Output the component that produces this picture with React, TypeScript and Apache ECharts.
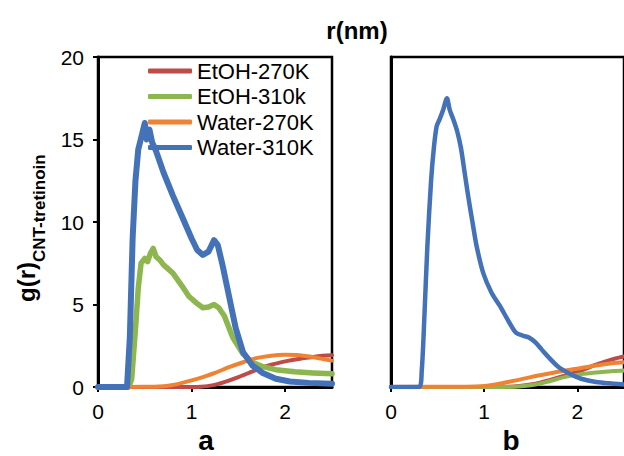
import React, { useEffect, useRef } from "react";
import * as echarts from "echarts";

// ---- data (r in nm, g(r)) ----
const seriesNames = ["EtOH-270K", "EtOH-310k", "Water-270K", "Water-310K"];
const seriesColors = ["#BE4B48", "#8DB64F", "#EE8433", "#4372B8"];
const xTickValues = [0, 1, 2];
const yTickValuesA = [0, 5, 10, 15, 20];

// panel a
const etoh270A = [[0, 0], [1.0, 0], [1.1, 0.02], [1.22, 0.1], [1.35, 0.3], [1.5, 0.6], [1.63, 0.9], [1.76, 1.2], [1.9, 1.42], [2.04, 1.6], [2.17, 1.72], [2.3, 1.82], [2.4, 1.9], [2.5, 1.93]];
const etoh310A = [[0, 0], [0.33, 0], [0.36, 0.5], [0.4, 3.5], [0.43, 6], [0.46, 7.5], [0.5, 7.8], [0.53, 7.6], [0.56, 8.1], [0.59, 8.4], [0.62, 7.9], [0.66, 7.7], [0.7, 7.4], [0.8, 6.9], [0.9, 6.1], [0.97, 5.5], [1.05, 5.1], [1.12, 4.8], [1.18, 4.85], [1.24, 5.0], [1.29, 4.8], [1.35, 4.3], [1.44, 3.0], [1.55, 2.0], [1.65, 1.5], [1.75, 1.25], [1.9, 1.05], [2.1, 0.92], [2.3, 0.85], [2.5, 0.8]];
const water270A = [[0, 0], [0.5, 0.01], [0.7, 0.05], [0.8, 0.12], [0.9, 0.25], [1.0, 0.4], [1.12, 0.6], [1.25, 0.85], [1.4, 1.2], [1.55, 1.5], [1.69, 1.75], [1.85, 1.9], [2.0, 1.95], [2.15, 1.93], [2.26, 1.85], [2.38, 1.72], [2.5, 1.6]];
const water310A = [[0, 0], [0.31, 0], [0.34, 3], [0.37, 9], [0.4, 12.5], [0.43, 14.4], [0.47, 15.3], [0.5, 16.0], [0.52, 15.0], [0.55, 15.6], [0.58, 14.8], [0.62, 14.3], [0.7, 13.0], [0.8, 11.6], [0.9, 10.3], [1.0, 9.0], [1.06, 8.3], [1.12, 8.0], [1.18, 8.2], [1.24, 8.9], [1.28, 8.6], [1.33, 7.4], [1.4, 5.5], [1.47, 3.6], [1.55, 2.1], [1.65, 1.3], [1.76, 0.85], [1.9, 0.5], [2.05, 0.33], [2.25, 0.25], [2.5, 0.2]];

// panel b
const etoh270B = [[0, 0], [1.2, 0], [1.4, 0.08], [1.55, 0.2], [1.7, 0.42], [1.87, 0.7], [2.04, 1.0], [2.2, 1.35], [2.39, 1.7], [2.5, 1.85]];
const etoh310B = [[0, 0], [1.2, 0], [1.4, 0.05], [1.55, 0.15], [1.7, 0.35], [1.86, 0.6], [2.04, 0.78], [2.2, 0.88], [2.39, 0.97], [2.5, 1.0]];
const water270B = [[0, 0], [0.8, 0.02], [1.0, 0.06], [1.15, 0.18], [1.34, 0.4], [1.5, 0.6], [1.7, 0.82], [1.87, 1.0], [2.04, 1.15], [2.2, 1.3], [2.39, 1.45], [2.5, 1.5]];
const water310B = [[0, 0], [0.3, 0], [0.33, 1], [0.36, 4.5], [0.39, 8.5], [0.43, 12.5], [0.46, 14.5], [0.49, 15.8], [0.52, 16.2], [0.56, 16.8], [0.6, 17.5], [0.63, 16.8], [0.67, 16.2], [0.71, 15.5], [0.75, 14.5], [0.79, 13], [0.83, 11.5], [0.88, 9.8], [0.92, 8.5], [0.99, 6.9], [1.08, 5.7], [1.17, 4.9], [1.26, 4.0], [1.34, 3.3], [1.42, 3.1], [1.48, 3.0], [1.55, 2.7], [1.62, 2.25], [1.7, 1.75], [1.8, 1.2], [1.92, 0.8], [2.04, 0.5], [2.2, 0.3], [2.39, 0.2], [2.5, 0.15]];

const panelA = [etoh270A, etoh310A, water270A, water310A];
const panelB = [etoh270B, etoh310B, water270B, water310B];
const lineWidthsA = [4, 5.5, 4, 6];
const lineWidthsB = [4, 4, 4, 4.5];

const FONT = "'Liberation Sans', Arial, sans-serif";

export default function App() {
  const ref = useRef<HTMLDivElement>(null);
  useEffect(() => {
    if (!ref.current) return;
    const chart = echarts.init(ref.current, null, { renderer: "svg" });

    const xAxisBase = (gridIndex: number) => ({
      type: "value",
      gridIndex,
      min: 0,
      max: 2.5,
      interval: 1,
      axisLine: { show: true, onZero: false, lineStyle: { color: "#000", width: 3 } },
      axisTick: { show: true, inside: false, length: 5, customValues: xTickValues, lineStyle: { color: "#000", width: 2 } },
      axisLabel: { customValues: xTickValues, fontSize: 21, color: "#000", margin: 14, fontFamily: FONT },
      splitLine: { show: false },
    });

    const mkSeries = (data: number[][][], idx: number, smoothFlags: boolean[], widths: number[]) =>
      data.map((d, i) => ({
        name: seriesNames[i],
        type: "line",
        xAxisIndex: idx,
        yAxisIndex: idx,
        data: d,
        showSymbol: false,
        symbol: "none",
        smooth: smoothFlags[i] ? 0.3 : false,
        color: seriesColors[i],
        lineStyle: { width: widths[i], color: seriesColors[i], join: "round", cap: "round" },
        z: 2 + i,
      }));

    const option: any = {
      animation: false,
      grid: [
        { left: 98, top: 57, width: 234, height: 330, show: true, borderColor: "#000", borderWidth: 2.5, backgroundColor: "transparent" },
        { left: 391, top: 57, width: 237.5, height: 330, show: true, borderColor: "#000", borderWidth: 2.5, backgroundColor: "transparent" },
      ],
      xAxis: [xAxisBase(0), xAxisBase(1)],
      yAxis: [
        {
          type: "value",
          gridIndex: 0,
          min: 0,
          max: 20,
          interval: 5,
          axisLine: { show: true, lineStyle: { color: "#000", width: 3 } },
          axisTick: { show: true, inside: false, length: 5, customValues: yTickValuesA, lineStyle: { color: "#000", width: 2 } },
          axisLabel: { fontSize: 21, color: "#000", margin: 14, fontFamily: FONT },
          splitLine: { show: false },
        },
        {
          type: "value",
          gridIndex: 1,
          min: 0,
          max: 20,
          interval: 5,
          axisLine: { show: true, lineStyle: { color: "#000", width: 3 } },
          axisTick: { show: false },
          axisLabel: { show: false },
          splitLine: { show: false },
        },
      ],
      legend: {
        data: seriesNames,
        orient: "vertical",
        left: 148,
        top: 60,
        padding: 0,
        itemWidth: 44,
        itemHeight: 5,
        itemGap: 3.5,
        icon: "roundRect",
        textStyle: { fontSize: 22, color: "#000", fontFamily: FONT },
        selectedMode: false,
      },
      series: [
        ...mkSeries(panelA, 0, [true, false, true, false], lineWidthsA),
        ...mkSeries(panelB, 1, [true, true, true, true], lineWidthsB),
      ],
      graphic: [
        { type: "text", x: 357, y: 30, style: { text: "r(nm)", fontSize: 24, fontWeight: "bold", fontFamily: FONT, fill: "#000", align: "center", verticalAlign: "middle" } },
        { type: "text", x: 26, y: 302, rotation: Math.PI / 2, style: { text: "g(r)", fontSize: 24, fontWeight: "bold", fontFamily: FONT, fill: "#000", align: "left", verticalAlign: "middle" } },
        { type: "text", x: 39, y: 262, rotation: Math.PI / 2, style: { text: "CNT-tretinoin", fontSize: 17, fontWeight: "bold", fontFamily: FONT, fill: "#000", align: "left", verticalAlign: "middle" } },
        { type: "text", x: 206, y: 440, style: { text: "a", fontSize: 28, fontWeight: "bold", fontFamily: FONT, fill: "#000", align: "center", verticalAlign: "middle" } },
        { type: "text", x: 511, y: 440, style: { text: "b", fontSize: 28, fontWeight: "bold", fontFamily: FONT, fill: "#000", align: "center", verticalAlign: "middle" } },
      ],
    };
    chart.setOption(option);
    return () => chart.dispose();
  }, []);
  return (
    <div
      ref={ref}
      style={{ position: "absolute", left: 0, top: 0, width: 624, height: 456, overflow: "hidden", background: "#fff" }}
    />
  );
}
